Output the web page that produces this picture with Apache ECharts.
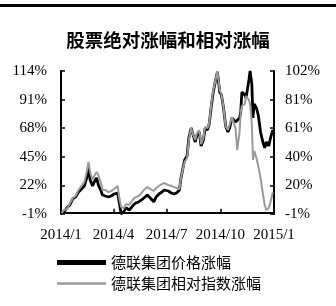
<!DOCTYPE html>
<html><head><meta charset="utf-8">
<script src="https://cdn.jsdelivr.net/npm/echarts@6/dist/echarts.min.js"></script>
<style>html,body{margin:0;padding:0;background:#fff}#c{width:336px;height:306px}</style>
</head><body><div id="c"></div>
<script>
var dates = ['2014-01-02','2014-01-06','2014-01-11','2014-01-16','2014-01-21','2014-01-26','2014-01-31','2014-02-05','2014-02-10','2014-02-14','2014-02-17','2014-02-20','2014-02-24','2014-02-27','2014-03-03','2014-03-06','2014-03-10','2014-03-13','2014-03-18','2014-03-23','2014-03-28','2014-04-02','2014-04-08','2014-04-11','2014-04-14','2014-04-18','2014-04-23','2014-04-28','2014-05-05','2014-05-09','2014-05-14','2014-05-19','2014-05-23','2014-05-29','2014-06-03','2014-06-09','2014-06-13','2014-06-18','2014-06-23','2014-06-27','2014-07-04','2014-07-09','2014-07-14','2014-07-18','2014-07-23','2014-07-25','2014-07-30','2014-08-01','2014-08-05','2014-08-08','2014-08-12','2014-08-15','2014-08-19','2014-08-22','2014-08-26','2014-08-29','2014-09-02','2014-09-05','2014-09-09','2014-09-12','2014-09-16','2014-09-19','2014-09-23','2014-09-26','2014-09-30','2014-10-03','2014-10-07','2014-10-10','2014-10-14','2014-10-17','2014-10-21','2014-10-24','2014-10-27','2014-10-30','2014-11-03','2014-11-05','2014-11-07','2014-11-12','2014-11-14','2014-11-19','2014-11-21','2014-11-24','2014-11-26','2014-11-28','2014-12-02','2014-12-05','2014-12-09','2014-12-12','2014-12-16','2014-12-19','2014-12-23','2014-12-26','2014-12-30'];
var priceChange = [-0.2,0.6,3.8,6.2,11.1,12.7,16.7,19.1,21.5,28.0,36.0,26.3,21.5,24.7,28.0,22.3,18.3,14.3,13.5,12.7,13.5,15.1,15.9,7.8,-1.0,0.6,3.8,2.2,6.2,7.8,8.7,10.3,11.9,14.3,11.9,8.7,12.7,15.1,16.7,18.3,17.5,15.9,15.1,15.9,18.3,26.3,38.4,42.4,45.6,60.1,68.2,63.3,56.9,62.5,64.9,53.7,58.5,68.2,66.6,71.4,87.5,97.1,106.8,113.2,97.1,94.7,82.6,69.8,64.9,68.2,76.2,74.6,73.0,74.6,76.2,81.0,97.1,94.7,92.3,106.8,114.0,103.5,76.2,87.5,84.2,78.6,64.9,58.5,52.1,56.9,53.7,60.1,66.6];
var relativeChange = [-0.3,1.9,2.6,6.2,10.5,12.0,16.3,19.2,22.0,29.3,36.5,29.3,23.5,26.4,29.3,27.1,22.0,16.3,16.3,14.8,15.6,17.0,19.2,10.5,4.0,3.3,6.2,5.5,9.8,11.2,12.0,14.1,16.3,18.4,17.0,15.6,17.7,19.2,20.6,21.3,19.9,19.2,18.4,17.7,17.0,23.5,33.6,36.5,39.3,52.3,60.9,56.6,52.3,57.3,59.5,49.4,53.7,61.7,60.9,64.5,79.7,88.3,95.5,102.0,88.3,85.4,73.9,62.4,59.5,63.1,68.9,68.1,60.9,45.1,58.1,72.5,76.8,78.2,84.0,81.1,78.2,63.8,37.9,44.4,39.3,33.6,24.9,16.3,5.5,1.9,3.3,7.6,14.8];
var leftTicks = [-1,22,45,68,91,114];
var rightTicks = [-1,19.6,40.2,60.8,81.4,102];
var xTickDays = [0,90,181,273,365];
var xTickLabels = ['2014/1','2014/4','2014/7','2014/10','2015/1'];
var seriesNames = ['德联集团价格涨幅','德联集团相对指数涨幅'];
var title = '股票绝对涨幅和相对涨幅';

var t0 = new Date(2014,0,1).getTime();
function dayOf(s){var p=s.split('-');return Math.round((new Date(+p[0],+p[1]-1,+p[2]).getTime()-t0)/86400000);}
function pairs(vals){return dates.map(function(d,i){return [dayOf(d),vals[i]];});}

var serif = '"Liberation Serif","Times New Roman",serif';
var cjk = '"Noto Sans CJK SC",sans-serif';
var legendText = {fontFamily:cjk,fontSize:15,color:'#000'};
var chart = echarts.init(document.getElementById('c'),null,{renderer:'canvas'});
chart.setOption({
  animation:false,
  backgroundColor:'#fff',
  title:{text:title,left:'center',top:26,textStyle:{fontFamily:cjk,fontSize:18.5,fontWeight:'bold',color:'#000'}},
  graphic:[{type:'rect',shape:{x:0,y:4,width:336,height:3},style:{fill:'#000'}}],
  grid:{left:61,right:62,top:71,bottom:92},
  legend:[
    {left:52,top:250,itemWidth:49,itemHeight:5,icon:'rect',textStyle:legendText,
      data:[{name:seriesNames[0],itemStyle:{color:'#000'}}]},
    {left:52,top:271,itemWidth:49,itemHeight:2.5,icon:'rect',textStyle:legendText,
      data:[{name:seriesNames[1],itemStyle:{color:'#9a9a9a'}}]}],
  xAxis:{type:'value',min:0,max:365,
    axisLine:{lineStyle:{color:'#000',width:2}},
    axisTick:{inside:true,length:4,customValues:xTickDays,lineStyle:{color:'#000',width:1.5}},
    axisLabel:{customValues:xTickDays,margin:14,fontFamily:serif,fontSize:15,color:'#000',
      formatter:function(v){return xTickLabels[xTickDays.indexOf(v)];}},
    splitLine:{show:false}},
  yAxis:[{type:'value',min:-1,max:114,position:'left',
    axisLine:{show:true,lineStyle:{color:'#000',width:2}},
    axisTick:{show:true,inside:true,length:4,customValues:leftTicks,lineStyle:{color:'#000',width:1.5}},
    axisLabel:{customValues:leftTicks,margin:14,fontFamily:serif,fontSize:15,color:'#000',formatter:function(v){return Math.round(v)+'%';}},
    splitLine:{show:false}},
   {type:'value',min:-1,max:102,position:'right',
    axisLine:{show:true,lineStyle:{color:'#000',width:2}},
    axisTick:{show:true,inside:true,length:4,customValues:rightTicks,lineStyle:{color:'#000',width:1.5}},
    axisLabel:{customValues:rightTicks,margin:11,fontFamily:serif,fontSize:15,color:'#000',formatter:function(v){return Math.round(v)+'%';}},
    splitLine:{show:false}}],
  series:[
    {name:seriesNames[0],type:'line',yAxisIndex:0,data:pairs(priceChange),showSymbol:false,symbol:'none',
      lineStyle:{color:'#000',width:2.8},itemStyle:{color:'#000'}},
    {name:seriesNames[1],type:'line',yAxisIndex:1,data:pairs(relativeChange),showSymbol:false,symbol:'none',
      lineStyle:{color:'#9a9a9a',width:2},itemStyle:{color:'#9a9a9a'}}
  ]
});
</script></body></html>
